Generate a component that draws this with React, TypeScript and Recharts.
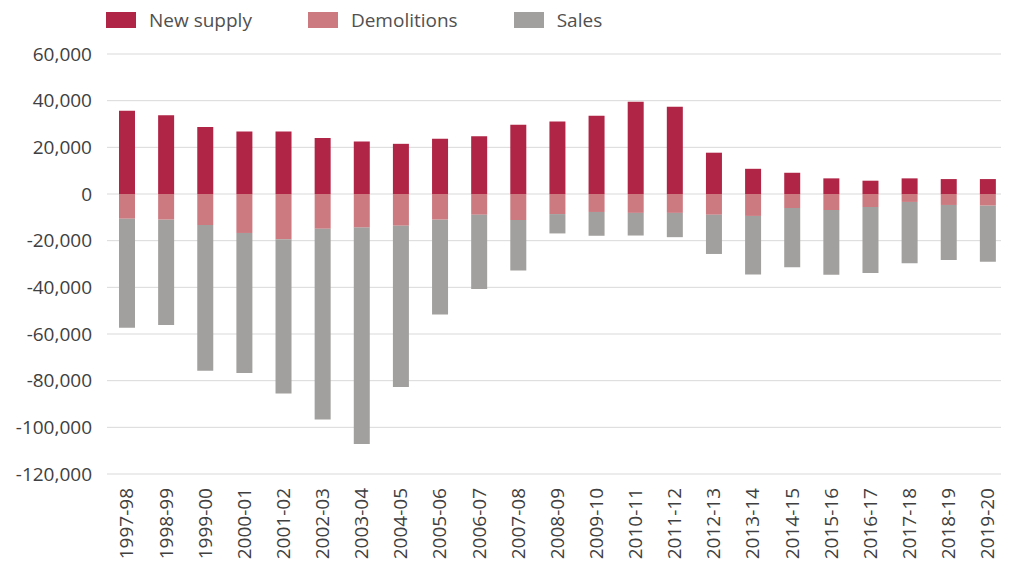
import React from "react";
import {
  BarChart,
  Bar,
  XAxis,
  YAxis,
  CartesianGrid,
  Legend,
} from "recharts";

const years = [
  "1997-98", "1998-99", "1999-00", "2000-01", "2001-02", "2002-03",
  "2003-04", "2004-05", "2005-06", "2006-07", "2007-08", "2008-09",
  "2009-10", "2010-11", "2011-12", "2012-13", "2013-14", "2014-15",
  "2015-16", "2016-17", "2017-18", "2018-19", "2019-20",
];

const newSupply = [
  35700, 33700, 28700, 26800, 26800, 24000, 22500, 21500, 23700, 24800, 29700,
  31100, 33500, 39500, 37400, 17700, 10800, 9100, 6700, 5700, 6700, 6400, 6400,
];

const demolitions = [
  -10600, -11000, -13300, -16700, -19400, -14900, -14400, -13600, -11000, -8900,
  -11100, -8600, -7700, -8100, -8100, -8900, -9400, -6000, -6900, -5600, -3400,
  -4700, -5000,
];

const sales = [
  -46700, -45100, -62400, -60000, -66100, -81700, -92700, -69100, -40600, -31800,
  -21700, -8300, -10200, -9700, -10400, -16800, -25100, -25400, -27700, -28300,
  -26300, -23600, -24000,
];

const seriesNames = ["New supply", "Demolitions", "Sales"];

const yTicks = [60000, 40000, 20000, 0, -20000, -40000, -60000, -80000, -100000, -120000];

const data = years.map((year, i) => ({
  year,
  newSupply: newSupply[i],
  demolitions: demolitions[i],
  sales: sales[i],
}));

const textColor = "#404040";

const YearTick = (props: any) => {
  const { x, y, payload } = props;
  return (
    <text
      x={x}
      y={y}
      transform={`rotate(-90 ${x} ${y})`}
      textAnchor="end"
      dy="0.36em"
      fill={textColor}
      fontSize={19}
    >
      {payload.value}
    </text>
  );
};

const renderLegend = (props: any) => {
  // keep the order of the series, not alphabetical
  const payload = [...props.payload].sort(
    (a: any, b: any) => seriesNames.indexOf(a.value) - seriesNames.indexOf(b.value)
  );
  return (
    <div style={{ display: "flex", paddingLeft: 98, height: 30, alignItems: "center" }}>
      {payload.map((item: any) => (
        <div
          key={item.value}
          style={{ display: "flex", alignItems: "center", marginRight: 56 }}
        >
          <span
            style={{
              display: "inline-block",
              width: 30,
              height: 16,
              background: item.color,
              marginRight: 13,
            }}
          />
          <span style={{ color: "#505050", fontSize: 19 }}>{item.value}</span>
        </div>
      ))}
    </div>
  );
};

export default function App() {
  return (
    <div style={{ fontFamily: "'Open Sans', sans-serif" }}>
      <BarChart
        width={1001}
        height={555}
        data={data}
        stackOffset="sign"
        margin={{ top: 16, right: 2, left: 0, bottom: 0 }}
      >
        <CartesianGrid vertical={false} stroke="#d9d9d9" />
        <Legend
          verticalAlign="top"
          align="left"
          content={renderLegend}
          wrapperStyle={{ top: -3, left: 0, height: 30 }}
        />
        <XAxis
          dataKey="year"
          axisLine={false}
          tickLine={false}
          interval={0}
          height={89}
          tickMargin={8}
          tick={<YearTick />}
        />
        <YAxis
          domain={[-120000, 60000]}
          ticks={yTicks}
          width={99}
          axisLine={false}
          tickLine={false}
          tickMargin={9}
          tick={{ fill: textColor, fontSize: 19 }}
          tickFormatter={(v: number) => v.toLocaleString("en-US")}
        />
        <Bar dataKey="newSupply" name={seriesNames[0]} stackId="a" fill="#b02546" barSize={16} isAnimationActive={false} />
        <Bar dataKey="demolitions" name={seriesNames[1]} stackId="a" fill="#cc7a80" barSize={16} isAnimationActive={false} />
        <Bar dataKey="sales" name={seriesNames[2]} stackId="a" fill="#a2a09e" barSize={16} isAnimationActive={false} />
      </BarChart>
    </div>
  );
}
